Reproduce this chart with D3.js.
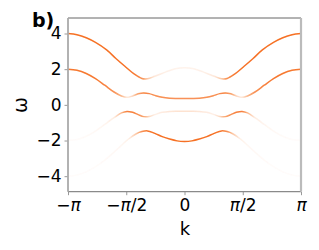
<!DOCTYPE html>
<html>
<head>
<meta charset="utf-8">
<script src="https://cdn.jsdelivr.net/npm/d3@7/dist/d3.min.js"></script>
<style>
  html, body { margin: 0; padding: 0; background: #fff; }
  svg { display: block; font-family: "DejaVu Sans", sans-serif; }
</style>
</head>
<body>
<svg id="chart" width="319" height="250"></svg>
<script>
// band traces: k, omega, spectral weight (0..1)
var band1K = [-3.14, -2.9, -2.65, -2.4, -2.1, -1.85, -1.6, -1.35, -1.15, -1.0, -0.8, -0.5, -0.25, 0, 0.25, 0.5, 0.8, 1.0, 1.15, 1.35, 1.6, 1.85, 2.1, 2.4, 2.65, 2.9, 3.14];
var band1W = [4.0, 3.93, 3.76, 3.5, 3.08, 2.6, 2.15, 1.72, 1.48, 1.46, 1.6, 1.85, 2.02, 2.08, 2.02, 1.85, 1.6, 1.46, 1.48, 1.72, 2.15, 2.6, 3.08, 3.5, 3.76, 3.93, 4.0];
var band1A = [0.9, 0.9, 0.9, 0.9, 0.9, 0.9, 0.9, 0.85, 0.7, 0.35, 0.14, 0.09, 0.08, 0.08, 0.08, 0.09, 0.14, 0.35, 0.7, 0.85, 0.9, 0.9, 0.9, 0.9, 0.9, 0.9, 0.9];

var band2K = [-3.14, -2.9, -2.65, -2.4, -2.15, -1.9, -1.7, -1.55, -1.4, -1.25, -1.1, -0.95, -0.8, -0.6, -0.4, -0.2, 0, 0.2, 0.4, 0.6, 0.8, 0.95, 1.1, 1.25, 1.4, 1.55, 1.7, 1.9, 2.15, 2.4, 2.65, 2.9, 3.14];
var band2W = [2.0, 1.94, 1.76, 1.47, 1.1, 0.72, 0.5, 0.42, 0.5, 0.62, 0.67, 0.63, 0.53, 0.42, 0.37, 0.36, 0.36, 0.36, 0.37, 0.42, 0.53, 0.63, 0.67, 0.62, 0.5, 0.42, 0.5, 0.72, 1.1, 1.47, 1.76, 1.94, 2.0];
var band2A = [0.85, 0.85, 0.85, 0.85, 0.8, 0.7, 0.45, 0.15, 0.25, 0.6, 0.75, 0.75, 0.7, 0.7, 0.7, 0.7, 0.7, 0.7, 0.7, 0.7, 0.7, 0.75, 0.75, 0.6, 0.25, 0.15, 0.45, 0.7, 0.8, 0.85, 0.85, 0.85, 0.85];

var band3K = band2K;
var band3W = [-2.0, -1.94, -1.76, -1.47, -1.1, -0.72, -0.45, -0.37, -0.42, -0.55, -0.66, -0.65, -0.55, -0.42, -0.37, -0.36, -0.36, -0.36, -0.37, -0.42, -0.55, -0.65, -0.66, -0.55, -0.42, -0.37, -0.45, -0.72, -1.1, -1.47, -1.76, -1.94, -2.0];
var band3A = [0.02, 0.02, 0.03, 0.04, 0.06, 0.12, 0.45, 0.8, 0.8, 0.7, 0.55, 0.25, 0.1, 0.12, 0.15, 0.18, 0.18, 0.18, 0.15, 0.12, 0.1, 0.25, 0.55, 0.7, 0.8, 0.8, 0.45, 0.12, 0.06, 0.04, 0.03, 0.02, 0.02];

var band4K = [-3.14, -2.9, -2.65, -2.4, -2.15, -1.9, -1.7, -1.5, -1.3, -1.15, -1.0, -0.8, -0.6, -0.4, -0.2, 0, 0.2, 0.4, 0.6, 0.8, 1.0, 1.15, 1.3, 1.5, 1.7, 1.9, 2.15, 2.4, 2.65, 2.9, 3.14];
var band4W = [-4.0, -3.93, -3.76, -3.47, -3.1, -2.65, -2.27, -1.9, -1.62, -1.5, -1.46, -1.6, -1.78, -1.92, -2.02, -2.05, -2.02, -1.92, -1.78, -1.6, -1.46, -1.5, -1.62, -1.9, -2.27, -2.65, -3.1, -3.47, -3.76, -3.93, -4.0];
var band4A = [0.02, 0.02, 0.02, 0.02, 0.03, 0.04, 0.05, 0.1, 0.35, 0.7, 0.85, 0.9, 0.9, 0.9, 0.9, 0.9, 0.9, 0.9, 0.9, 0.9, 0.85, 0.7, 0.35, 0.1, 0.05, 0.04, 0.03, 0.02, 0.02, 0.02, 0.02];

var xTickVals = [-Math.PI, -Math.PI / 2, 0, Math.PI / 2, Math.PI];
var xTickLabels = ["−π", "−π/2", "0", "π/2", "π"];
var yTickVals = [-4, -2, 0, 2, 4];

(function() {
  var svg = d3.select("#chart");
  var mLeft = 68, mRight = 301, mTop = 18, mBottom = 191.7;

  var x = d3.scaleLinear().domain([-Math.PI, Math.PI]).range([mLeft, mRight]);
  var y = d3.scaleLinear().domain([-4.87, 4.87]).range([mBottom, mTop]);

  var defs = svg.append("defs");
  defs.append("filter").attr("id", "soft")
    .attr("x", "-5%").attr("y", "-20%").attr("width", "110%").attr("height", "140%")
    .append("feGaussianBlur").attr("stdDeviation", 0.35);

  defs.append("clipPath").attr("id", "plotclip")
    .append("rect").attr("x", mLeft).attr("y", mTop).attr("width", mRight - mLeft).attr("height", mBottom - mTop);

  var bands = [
    { k: band1K, w: band1W, a: band1A },
    { k: band2K, w: band2W, a: band2A },
    { k: band3K, w: band3W, a: band3A },
    { k: band4K, w: band4W, a: band4A }
  ];

  var line = d3.line()
    .x(function(d) { return x(d[0]); })
    .y(function(d) { return y(d[1]); })
    .curve(d3.curveCatmullRom.alpha(0.5));

  var plot = svg.append("g").attr("clip-path", "url(#plotclip)");

  bands.forEach(function(b, i) {
    var grad = defs.append("linearGradient").attr("id", "g" + i)
      .attr("gradientUnits", "userSpaceOnUse")
      .attr("x1", x(-Math.PI)).attr("x2", x(Math.PI)).attr("y1", 0).attr("y2", 0);
    b.k.forEach(function(k, j) {
      grad.append("stop")
        .attr("offset", (k + Math.PI) / (2 * Math.PI))
        .attr("stop-color", "#f5600a")
        .attr("stop-opacity", b.a[j]);
    });
    var pts = b.k.map(function(k, j) { return [k, b.w[j]]; });
    plot.append("path").datum(pts)
      .attr("d", line)
      .attr("fill", "none")
      .attr("stroke", "url(#g" + i + ")")
      .attr("stroke-width", 1.5)
      .attr("filter", "url(#soft)");
  });

  // axes
  var yAxis = d3.axisLeft(y).tickValues(yTickVals).tickSize(3.5).tickPadding(3)
    .tickFormat(function(d) { return d < 0 ? "−" + Math.abs(d) : String(d); });
  var gy = svg.append("g").attr("transform", "translate(" + mLeft + ",0)").call(yAxis)
    .attr("font-size", 17).attr("font-family", "DejaVu Sans");
  gy.select(".domain").remove();
  gy.selectAll(".tick line").attr("stroke", "#999");
  gy.selectAll(".tick text").attr("fill", "#000");

  var xAxis = d3.axisBottom(x).tickValues(xTickVals).tickSize(3.5).tickPadding(4)
    .tickFormat(function(d, i) { return xTickLabels[i]; });
  var gx = svg.append("g").attr("transform", "translate(0," + mBottom + ")").call(xAxis)
    .attr("font-size", 17).attr("font-family", "DejaVu Sans");
  gx.select(".domain").remove();
  gx.selectAll(".tick line").attr("stroke", "#999");
  gx.selectAll(".tick text").attr("fill", "#000")
    .each(function(d, i) {
      var t = d3.select(this);
      var s = xTickLabels[i];
      t.text(null);
      s.split(/(π)/).forEach(function(part) {
        if (!part) return;
        var ts = t.append("tspan").text(part);
        if (part === "π") ts.attr("font-style", "italic");
      });
    });

  // spines
  svg.append("line").attr("x1", mLeft).attr("x2", mRight).attr("y1", mTop).attr("y2", mTop)
    .attr("stroke", "#666").attr("stroke-width", 1);
  svg.append("line").attr("x1", mLeft).attr("x2", mRight).attr("y1", mBottom).attr("y2", mBottom)
    .attr("stroke", "#8a8a8a").attr("stroke-width", 1.2);
  svg.append("line").attr("x1", mLeft).attr("x2", mLeft).attr("y1", mTop).attr("y2", mBottom)
    .attr("stroke", "#aaa").attr("stroke-width", 1.8);
  svg.append("line").attr("x1", mRight).attr("x2", mRight).attr("y1", mTop).attr("y2", mBottom)
    .attr("stroke", "#bbb").attr("stroke-width", 2.2);

  // labels
  svg.append("text").attr("x", 185).attr("y", 235).attr("text-anchor", "middle")
    .attr("font-size", 18).text("k");
  svg.append("text").attr("transform", "translate(27,105) rotate(-90)").attr("text-anchor", "middle")
    .attr("font-size", 19).text("ω");
  svg.append("text").attr("x", 32).attr("y", 27).attr("font-size", 19).attr("font-weight", "bold")
    .text("b)");
})();
</script>
</body>
</html>
